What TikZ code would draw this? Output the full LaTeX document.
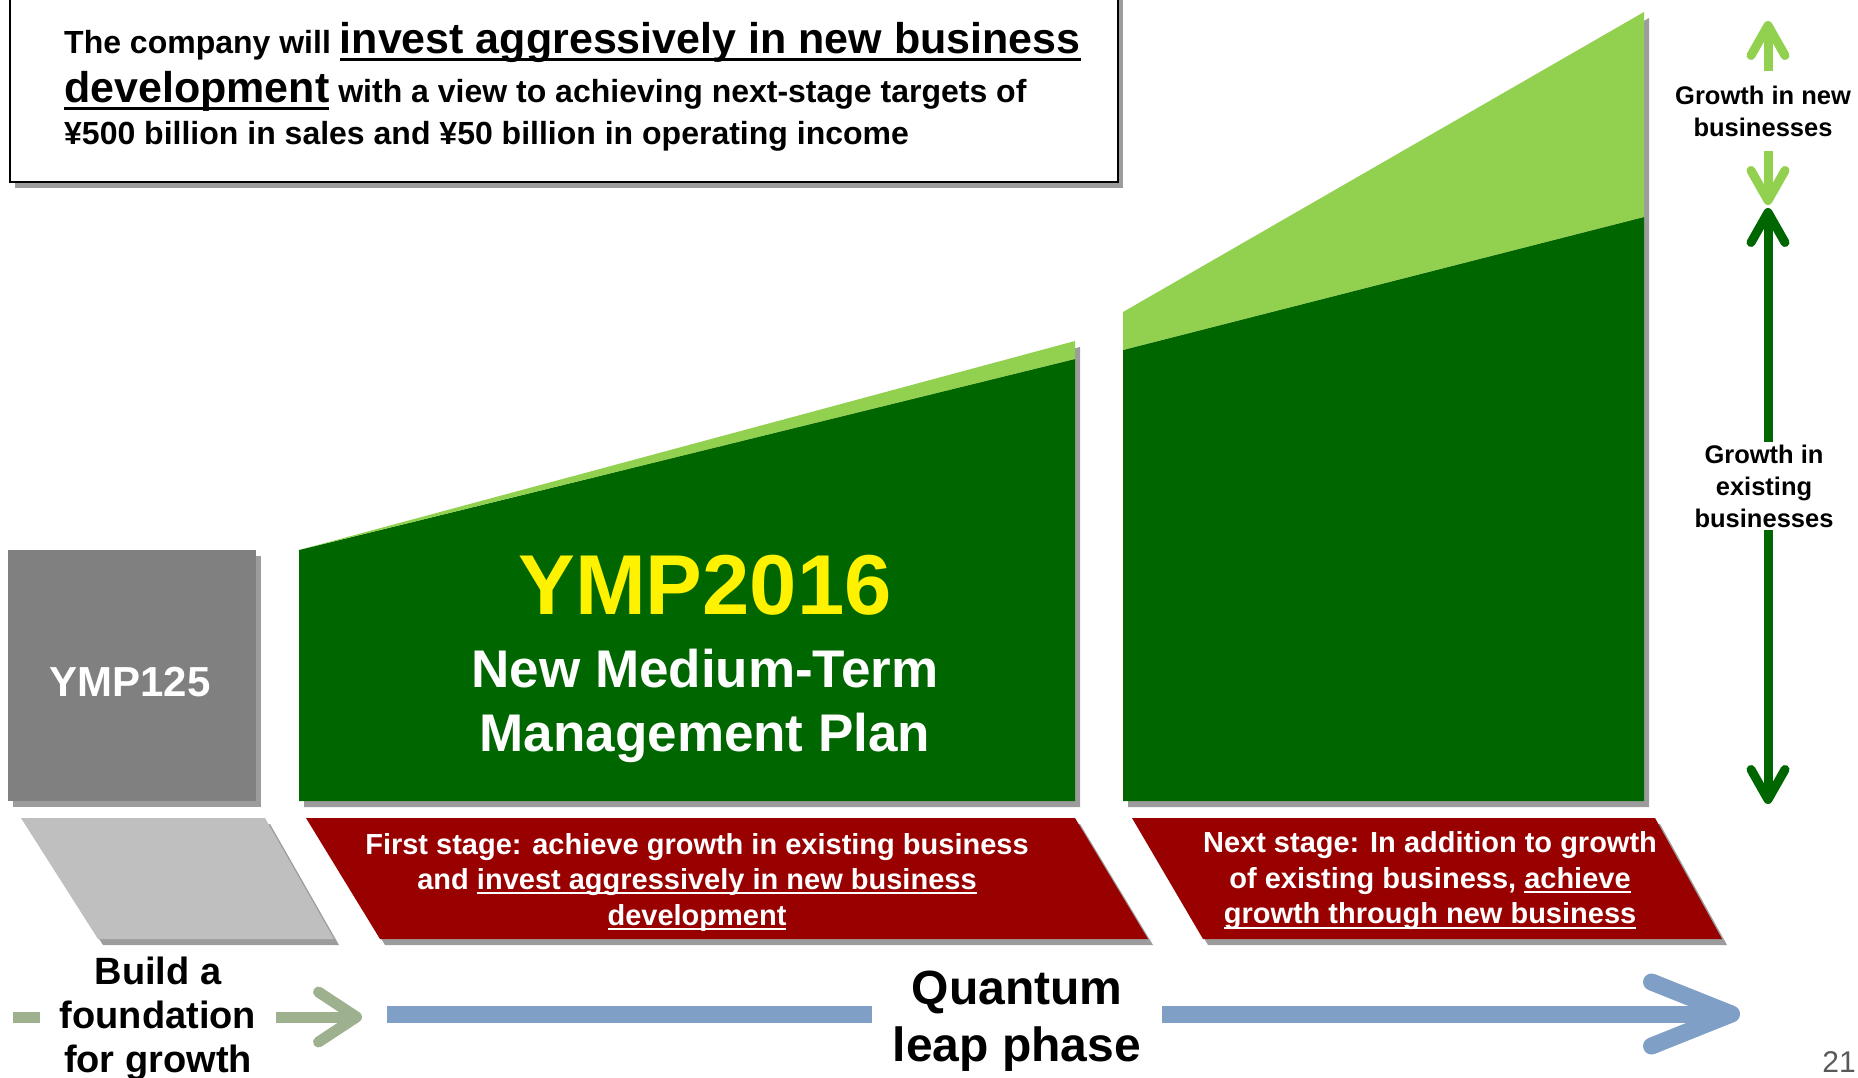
\documentclass[tikz,border=0pt]{standalone}
\usepackage{xcolor}
\usepackage{tikz}
\usepackage{amsmath}
\usepackage{fontspec}
\setmainfont{Liberation Sans}
\usetikzlibrary{arrows.meta, positioning}

\definecolor{bizdark}{HTML}{006600}
\definecolor{bizlight}{HTML}{92D050}
\definecolor{ympgray}{HTML}{808080}
\definecolor{palegray}{HTML}{BFBFBF}
\definecolor{stagered}{HTML}{990000}
\definecolor{leapblue}{HTML}{7F9FC6}
\definecolor{basegreen}{HTML}{9DB18E}
\definecolor{shadowgray}{HTML}{9C9C9C}
\definecolor{pagegray}{HTML}{595959}

\newcommand{\fsz}[2]{\fontsize{#1}{#2}\selectfont}
\newsavebox{\ulbox}
\newcommand{\undl}[1]{\sbox{\ulbox}{#1}\rlap{\rule[-0.16em]{\wd\ulbox}{0.07em}}\usebox{\ulbox}}

\begin{document}
\begin{tikzpicture}[x=1pt,y=-1pt]
  \useasboundingbox (0,0) rectangle (1858,1078);

  % shadows
  \begin{scope}[shift={(5,6)}]
    \fill[shadowgray] (10,-10) rectangle (1118,182);
    \fill[shadowgray] (8,550) rectangle (256,801);
    \fill[shadowgray] (299,801) -- (299,550) -- (1075,341) -- (1075,801) -- cycle;
    \fill[shadowgray] (1123,801) -- (1123,312) -- (1644,12) -- (1644,801) -- cycle;
    \fill[shadowgray] (21,818) -- (265,818) -- (334,939) -- (98,939) -- cycle;
    \fill[shadowgray] (306,818) -- (1075,818) -- (1148,939) -- (380,939) -- cycle;
    \fill[shadowgray] (1132,818) -- (1655,818) -- (1722,939) -- (1203,939) -- cycle;
  \end{scope}

  % message box
  \draw[line width=2.5, fill=white] (10,-10) rectangle (1118,182);
  \begin{scope}[every node/.style={anchor=base west, inner sep=0, font=\bfseries\fsz{32}{38}}]
    \node (msg1) at (64,54) {The company will {\fsz{43}{50}\undl{invest aggressively in new business}}};
    \node (msg2) at (64,103) {{\fsz{43}{50}\undl{development}} with a view to achieving next-stage targets of};
    \node (msg3) at (64,145) {¥500 billion in sales and ¥50 billion in operating income};
  \end{scope}

  % plan blocks
  \fill[ympgray] (8,550) rectangle (256,801);
  \fill[bizdark] (299,801) -- (299,550) -- (1075,359) -- (1075,801) -- cycle;
  \fill[bizlight] (299,550) -- (1075,341) -- (1075,359) -- cycle;
  \fill[bizdark] (1123,801) -- (1123,350) -- (1644,217) -- (1644,801) -- cycle;
  \fill[bizlight] (1123,350) -- (1123,312) -- (1644,12) -- (1644,217) -- cycle;

  \node[anchor=base, text=white, font=\bfseries\fsz{42}{50}] (ymp125) at (130,696) {YMP125};
  \node[anchor=base, text=yellow, font=\bfseries\fsz{85}{96}] (ymp2016) at (705,614) {YMP2016};
  \node[align=center, text=white, font=\bfseries\fsz{53}{64}, inner sep=0] (mtp) at (705,706) {New Medium-Term\\Management Plan};

  % stages
  \fill[palegray] (21,818) -- (265,818) -- (334,939) -- (98,939) -- cycle;
  \fill[stagered] (306,818) -- (1075,818) -- (1148,939) -- (380,939) -- cycle;
  \fill[stagered] (1132,818) -- (1655,818) -- (1722,939) -- (1203,939) -- cycle;
  \begin{scope}[every node/.style={align=center, text=white, inner sep=0, font=\bfseries\fsz{29}{35.5}}]
    \node (first) at (697,882) {First stage: achieve growth in existing business\\and \undl{invest aggressively in new business}\\\undl{development}};
    \node (next) at (1430,881) {Next stage: In addition to growth\\of existing business, \undl{achieve}\\\undl{growth through new business}};
  \end{scope}

  % growth arrows on the right
  \coordinate (newtop) at (1768,21);
  \coordinate (newbot) at (1768,205);
  \coordinate (oldtop) at (1768,208);
  \coordinate (oldbot) at (1768,804);
  \draw[bizlight, line width=9, {Straight Barb[round,length=30pt,width=34pt]}-{Straight Barb[round,length=30pt,width=34pt]}] (newtop) -- (newbot);
  \draw[bizdark, line width=9, {Straight Barb[round,length=30pt,width=34pt]}-{Straight Barb[round,length=30pt,width=34pt]}] (oldtop) -- (oldbot);
  \begin{scope}[every node/.style={fill=white, align=center, inner xsep=4, font=\bfseries\fsz{25.5}{32}}]
    \node[inner ysep=15] (newgrow) at (1763,111) {Growth in new\\businesses};
    \node[inner ysep=3] (oldgrow) at (1764,486) {Growth in\\existing\\businesses};
  \end{scope}

  % phase arrows
  \coordinate (baseL) at (13,1017);
  \coordinate (baseR) at (362,1017);
  \coordinate (leapL) at (387,1014);
  \coordinate (leapR) at (1740,1014);
  \draw[basegreen, line width=11, -{Straight Barb[round,length=38pt,width=50pt]}] (baseL) -- (baseR);
  \draw[leapblue, line width=17, -{Straight Barb[round,length=80pt,width=64pt]}] (leapL) -- (leapR);
  \begin{scope}[every node/.style={fill=white, align=center, inner ysep=2}]
    \node[inner xsep=20, font=\bfseries\fsz{38}{44}] (found) at (158,1019) {Build a\\foundation\\for growth};
    \node[inner xsep=21, font=\bfseries\fsz{48}{57}] (leap) at (1017,1021) {Quantum\\leap phase};
  \end{scope}

  \node[anchor=base east, inner sep=0, text=pagegray, font=\fsz{30}{36}] (pgno) at (1856,1072) {21};
\end{tikzpicture}
\end{document}
